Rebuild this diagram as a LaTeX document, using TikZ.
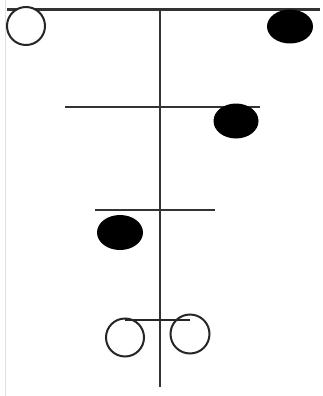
\documentclass[tikz,border=0pt]{standalone}
\begin{document}
\begin{tikzpicture}[x=1pt,y=-1pt,
  bar/.style={line width=2.3pt,draw=black!80},
  open/.style={line width=2pt,draw=black!85,fill=white},
  solid/.style={fill=black}]
\useasboundingbox (0,0) rectangle (323,396);
\fill[white] (0,0) rectangle (323,396);
\draw[line width=1pt,black!12] (5,0) -- (5,396);
% stem
\draw[bar] (160,9) -- (160,387);
% top
\draw[bar] (7,9.5) -- (320,9.5);
\draw[open] (26,26) circle (19);
\fill[solid] (290,26.5) ellipse (23 and 17);
% second
\draw[bar] (65,107) -- (260,107);
\fill[solid] (236,121) ellipse (22.5 and 17.5);
% third
\draw[bar] (95,210) -- (215,210);
\fill[solid] (120,232.5) ellipse (23 and 17.5);
% bottom
\draw[line width=1.8pt,black!85] (125,320) -- (190,320);
\draw[open,fill=none] (125,337.5) circle (19);
\draw[open,fill=none] (190,334) circle (19.5);
\end{tikzpicture}
\end{document}
